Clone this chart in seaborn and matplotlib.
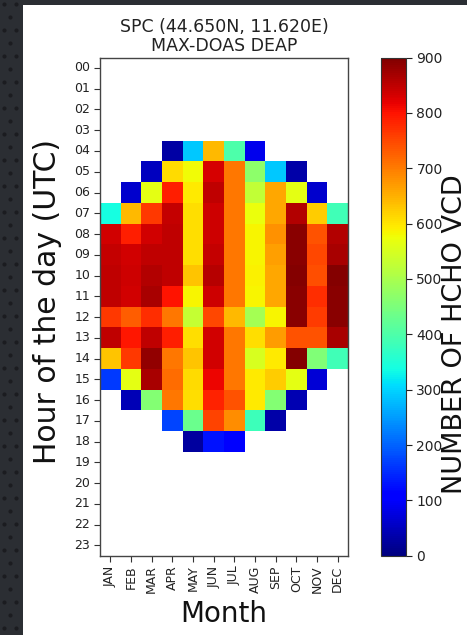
import numpy as np
import pandas as pd
import matplotlib
matplotlib.use("Agg")
import matplotlib.pyplot as plt
import seaborn as sns

N = np.nan

months = ["JAN", "FEB", "MAR", "APR", "MAY", "JUN",
          "JUL", "AUG", "SEP", "OCT", "NOV", "DEC"]
hour_labels = [f"{h:02d}" for h in range(24)]

# Number of HCHO VCD retrievals per hour (UTC) and month
h04 = [N, N, N, 30, 290, 640, 400, 85, N, N, N, N]
h05 = [N, N, 50, 610, 580, 830, 705, 470, 290, 35, N, N]
h06 = [N, 60, 565, 790, 595, 850, 705, 525, 660, 565, 60, N]
h07 = [340, 640, 765, 845, 605, 840, 705, 570, 660, 860, 625, 385]
h08 = [835, 790, 835, 850, 605, 840, 705, 585, 680, 890, 740, 860]
h09 = [845, 835, 850, 850, 605, 845, 705, 585, 665, 890, 750, 865]
h10 = [850, 840, 860, 850, 630, 855, 705, 590, 660, 895, 745, 895]
h11 = [850, 835, 865, 800, 585, 840, 705, 585, 660, 890, 775, 890]
h12 = [765, 730, 775, 705, 530, 750, 640, 495, 585, 890, 760, 890]
h13 = [850, 795, 850, 790, 605, 835, 705, 605, 670, 740, 740, 865]
h14 = [630, 765, 885, 705, 630, 835, 705, 550, 595, 895, 455, 385]
h15 = [165, 565, 865, 715, 610, 815, 705, 595, 625, 565, 70, N]
h16 = [N, 45, 460, 705, 605, 785, 740, 595, 460, 40, N, N]
h17 = [N, N, N, 175, 430, 755, 685, 380, 35, N, N, N]
h18 = [N, N, N, N, 25, 130, 105, N, N, N, N, N]

cbar_ticks = [0, 100, 200, 300, 400, 500, 600, 700, 800, 900]

measured = {4: h04, 5: h05, 6: h06, 7: h07, 8: h08, 9: h09, 10: h10,
            11: h11, 12: h12, 13: h13, 14: h14, 15: h15, 16: h16,
            17: h17, 18: h18}
grid = [measured.get(h, [N] * 12) for h in range(24)]
df = pd.DataFrame(grid, index=hour_labels, columns=months)

W, H = 467, 635
fig = plt.figure(figsize=(W / 100, H / 100), dpi=100)
fig.patch.set_facecolor("white")

# dark slide backdrop along the left and top edges
bg = fig.add_axes([0, 0, 1, 1], zorder=-5)
bg.set_xlim(0, W)
bg.set_ylim(H, 0)
bg.axis("off")
bg.fill_between([0, 23], 0, H, color="#2b2e33", lw=0)
bg.fill_between([0, W], 0, 5, color="#2b2e33", lw=0)
dx, dy = [], []
for j, y in enumerate(np.arange(4, H, 13)):
    for x in (np.arange(4, 23, 12) + (6 if j % 2 else 0)):
        if x < 22:
            dx.append(x)
            dy.append(y)
bg.scatter(dx, dy, s=9, color="#1b1c20", lw=0)

ax_bottom = 1 - 555.7 / H
ax_height = 498.1 / H
ax = fig.add_axes([100 / W, ax_bottom, 248 / W, ax_height])
cax = fig.add_axes([381 / W, ax_bottom, 25 / W, ax_height])

sns.heatmap(df, ax=ax, cbar_ax=cax, cmap="jet", vmin=0, vmax=900,
            cbar_kws={"ticks": cbar_ticks})

ax.set_facecolor("white")
ax.set_xticks(np.arange(12) + 0.5)
ax.set_xticklabels(months, rotation=90, fontsize=9, color="#222222")
ax.set_yticks(np.arange(24) + 0.5)
ax.set_yticklabels(hour_labels, rotation=0, fontsize=9, color="#222222")
for s in ax.spines.values():
    s.set_visible(True)
    s.set_linewidth(1.0)
    s.set_color("#444444")
ax.tick_params(length=4, width=0.8, color="#333333", pad=3)

ax.set_xlabel("Month", fontsize=20, color="#111111")
ax.xaxis.set_label_coords(0.5, -0.088)
ax.set_ylabel("Hour of the day (UTC)", fontsize=21.5, color="#111111")
ax.yaxis.set_label_coords(-0.155, 0.51)
ax.set_title("SPC (44.650N, 11.620E)\nMAX-DOAS DEAP", fontsize=12.5,
             linespacing=1.08, pad=5, color="#222222")

cbar = ax.collections[0].colorbar
cbar.outline.set_visible(True)
cbar.outline.set_linewidth(0.8)
cbar.outline.set_edgecolor("#333333")
cax.tick_params(labelsize=10, length=4, width=0.8, colors="#222222")

fig.text(455 / W, 1 - 334 / H, "NUMBER OF HCHO VCD", rotation=90,
         ha="center", va="center", fontsize=19.5, color="#111111")

fig.savefig("out.png", dpi=100)
